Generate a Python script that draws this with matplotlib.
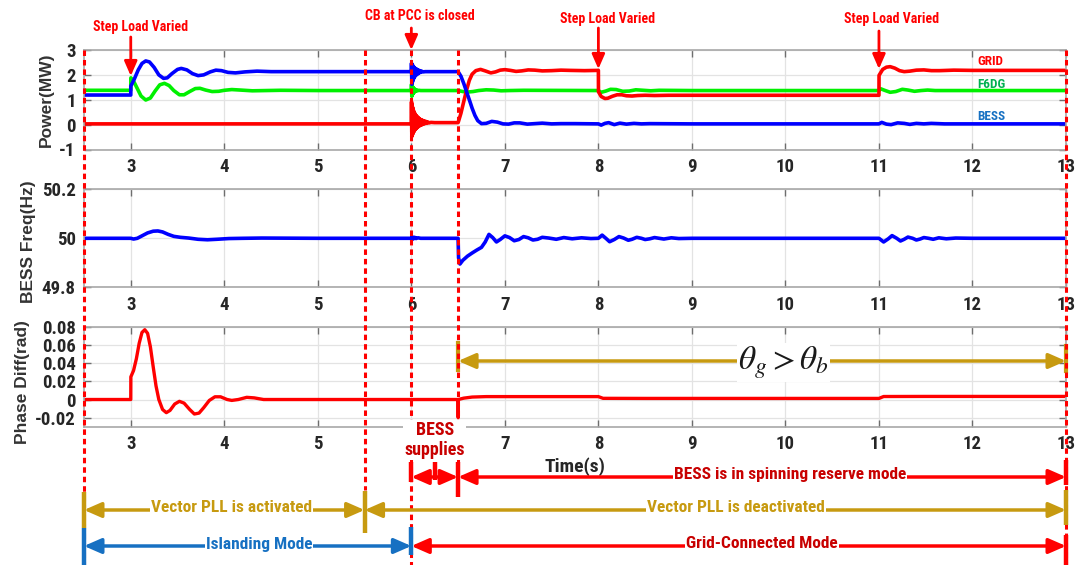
import matplotlib
matplotlib.use("Agg")
import matplotlib.pyplot as plt
from matplotlib import font_manager as fm
from matplotlib.transforms import blended_transform_factory
from matplotlib.patches import FancyArrowPatch
from matplotlib.lines import Line2D


def pick_narrow_family():
    """Return an installed narrow/condensed sans family, if any."""
    keys = ('Narrow', 'Condensed', 'Cond', 'Compressed')
    found = []
    for f in fm.fontManager.ttflist:
        if 'CJK' in f.name:
            continue
        narrow = any(k in f.name for k in keys) or str(f.stretch) in (
            'condensed', 'semi-condensed', 'extra-condensed', 'ultra-condensed')
        if narrow:
            found.append(f.name)
    for pref in ('Liberation Sans Narrow', 'Roboto Condensed', 'DejaVu Sans Condensed',
                 'DejaVu Sans', 'Open Sans Condensed', 'Noto Sans'):
        if pref in found:
            return pref
    return found[0] if found else 'Roboto'


NARROW_NAME = pick_narrow_family()
NARROW = [NARROW_NAME, 'DejaVu Sans']
WIDE = ['Liberation Sans', 'DejaVu Sans']
plt.rcParams['font.family'] = NARROW
plt.rcParams['font.stretch'] = 'condensed'
plt.rcParams['mathtext.fontset'] = 'stix'

# ---------------------------------------------------------------- data
t_min, t_max = 2.5, 13.0
x_ticks = [3, 4, 5, 6, 7, 8, 9, 10, 11, 12, 13]
x_tick_labels = ['3', '4', '5', '6', '7', '8', '9', '10', '11', '12', '13']
# the "6" under the BESS-supplies note is hidden in the bottom panel
x_tick_labels_phase = ['3', '4', '5', '', '7', '8', '9', '10', '11', '12', '13']

power_ticks = [-1, 0, 1, 2, 3]
power_tick_labels = ['-1', '0', '1', '2', '3']
freq_ticks = [49.8, 50.0, 50.2]
freq_tick_labels = ['49.8', '50', '50.2']
phase_ticks = [-0.02, 0.0, 0.02, 0.04, 0.06, 0.08]
phase_tick_labels = ['-0.02', '0', '0.02', '0.04', '0.06', '0.08']

# GRID active power (MW)
grid_t = [2.5, 3.0, 4.0, 5.0, 6.0,
          6.002, 6.005, 6.008, 6.011, 6.014, 6.017, 6.020, 6.023, 6.026, 6.029,
          6.032, 6.035, 6.038, 6.041, 6.044, 6.048, 6.052, 6.056, 6.060, 6.064,
          6.068, 6.072, 6.077, 6.082, 6.087, 6.092, 6.098, 6.104, 6.110, 6.116,
          6.123, 6.130, 6.138, 6.146, 6.155, 6.165, 6.175, 6.19, 6.21, 6.25,
          6.5, 6.53, 6.56, 6.59, 6.62, 6.65, 6.69, 6.74, 6.79, 6.85, 6.9, 6.95,
          7.0, 7.06, 7.12, 7.18, 7.25, 7.32, 7.4, 7.5, 7.6, 7.7, 7.85, 8.0,
          8.001, 8.03, 8.07, 8.1, 8.15, 8.2, 8.25, 8.3, 8.36, 8.42, 8.5, 8.6,
          8.75, 9.0, 10.0, 11.0,
          11.001, 11.04, 11.08, 11.12, 11.17, 11.22, 11.27, 11.33, 11.4, 11.48,
          11.56, 11.65, 11.8, 12.0, 13.0]
grid_p = [0.03, 0.03, 0.03, 0.03, 0.03,
          0.92, -0.48, 0.80, -0.42, 0.70, -0.36, 0.62, -0.31, 0.55, -0.27,
          0.49, -0.23, 0.44, -0.20, 0.40, -0.17, 0.36, -0.14, 0.33, -0.11,
          0.30, -0.09, 0.27, -0.06, 0.24, -0.04, 0.21, -0.02, 0.19, 0.00,
          0.17, 0.02, 0.15, 0.04, 0.13, 0.05, 0.11, 0.07, 0.09, 0.08,
          0.08, 0.45, 0.92, 1.38, 1.78, 2.03, 2.17, 2.22, 2.16, 2.08, 2.12, 2.19,
          2.21, 2.18, 2.14, 2.16, 2.20, 2.19, 2.16, 2.17, 2.19, 2.18, 2.17, 2.18,
          1.32, 1.13, 1.05, 1.06, 1.14, 1.20, 1.20, 1.16, 1.15, 1.17, 1.18, 1.17,
          1.18, 1.18, 1.18, 1.18,
          1.98, 2.22, 2.31, 2.33, 2.27, 2.17, 2.13, 2.15, 2.19, 2.20,
          2.17, 2.17, 2.19, 2.18, 2.18]

# F6DG active power (MW)
f6dg_t = [2.5, 3.0, 3.001, 3.03, 3.07, 3.11, 3.16, 3.21, 3.26, 3.31, 3.36,
          3.41, 3.46, 3.52, 3.57, 3.63, 3.69, 3.74, 3.8, 3.87, 3.94, 4.0, 4.08,
          4.17, 4.3, 4.45, 4.6, 5.0, 6.0,
          6.002, 6.005, 6.008, 6.011, 6.014, 6.017, 6.021, 6.025, 6.029, 6.034,
          6.040, 6.047, 6.055, 6.065, 6.08, 6.1,
          6.5, 6.55, 6.6, 6.66, 6.72, 6.8, 6.88, 6.96, 7.05, 7.2, 8.0,
          8.03, 8.08, 8.13, 8.19, 8.26, 8.33, 8.4, 8.48, 8.56, 8.65, 9.0, 11.0,
          11.02, 11.06, 11.12, 11.18, 11.25, 11.31, 11.38, 11.45, 11.52, 11.6,
          13.0]
f6dg_p = [1.38, 1.38, 1.88, 1.75, 1.45, 1.15, 0.99, 1.07, 1.35, 1.60, 1.66,
          1.57, 1.37, 1.20, 1.20, 1.33, 1.45, 1.46, 1.39, 1.33, 1.34, 1.38, 1.41,
          1.39, 1.36, 1.37, 1.38, 1.37, 1.37,
          1.62, 1.14, 1.57, 1.19, 1.52, 1.24, 1.48, 1.28, 1.45, 1.31,
          1.42, 1.34, 1.40, 1.36, 1.38, 1.37,
          1.37, 1.33, 1.31, 1.33, 1.37, 1.40, 1.39, 1.36, 1.37, 1.38, 1.37,
          1.30, 1.35, 1.42, 1.41, 1.34, 1.35, 1.40, 1.38, 1.36, 1.38, 1.37, 1.37,
          1.44, 1.38, 1.30, 1.33, 1.42, 1.39, 1.34, 1.37, 1.39, 1.37,
          1.37]

# BESS active power (MW)
bess_t = [2.5, 3.0, 3.001, 3.04, 3.08, 3.12, 3.16, 3.2, 3.25, 3.3, 3.35,
          3.39, 3.44, 3.5, 3.54, 3.6, 3.66, 3.72, 3.78, 3.85, 3.91, 3.97, 4.04,
          4.12, 4.22, 4.35, 4.5, 5.0, 6.0,
          6.002, 6.005, 6.008, 6.011, 6.014, 6.017, 6.020, 6.023, 6.026, 6.029,
          6.032, 6.035, 6.039, 6.043, 6.047, 6.051, 6.056, 6.061, 6.066, 6.072,
          6.078, 6.085, 6.092, 6.100, 6.110, 6.125, 6.15,
          6.5, 6.53, 6.56, 6.59, 6.62, 6.65, 6.68, 6.71, 6.75, 6.8, 6.86, 6.92,
          6.98, 7.04, 7.1, 7.16, 7.24, 7.32, 7.4, 7.5, 7.6, 7.75, 8.0,
          8.03, 8.07, 8.11, 8.17, 8.23, 8.3, 8.38, 8.46, 8.55, 9.0, 11.0,
          11.03, 11.08, 11.13, 11.2, 11.27, 11.33, 11.4, 11.48, 11.56, 11.7,
          13.0]
bess_p = [1.19, 1.19, 1.55, 1.85, 2.20, 2.46, 2.56, 2.52, 2.30, 2.00, 1.86,
          1.88, 2.05, 2.22, 2.26, 2.20, 2.05, 1.97, 2.00, 2.12, 2.19, 2.17, 2.10,
          2.08, 2.12, 2.15, 2.13, 2.13, 2.13,
          2.47, 1.62, 2.43, 1.70, 2.39, 1.77, 2.35, 1.83, 2.32, 1.88,
          2.29, 1.92, 2.27, 1.96, 2.25, 1.99, 2.23, 2.02, 2.21, 2.05,
          2.19, 2.08, 2.17, 2.10, 2.15, 2.12, 2.13,
          2.13, 1.95, 1.66, 1.33, 1.00, 0.66, 0.37, 0.16, 0.04, 0.05, 0.13, 0.10,
          0.03, 0.02, 0.07, 0.07, 0.02, 0.04, 0.06, 0.03, 0.04, 0.04, 0.03,
          -0.02, 0.05, 0.08, 0.00, 0.06, 0.02, 0.05, 0.03, 0.04, 0.03, 0.03,
          0.09, 0.02, 0.00, 0.07, 0.05, 0.01, 0.05, 0.03, 0.05, 0.03,
          0.03]

# BESS frequency (Hz)
freq_t = [2.5, 3.0, 3.03, 3.07, 3.12, 3.18, 3.24, 3.29, 3.34, 3.4, 3.46, 3.53,
          3.62, 3.72, 3.82, 3.92, 4.05, 4.2, 4.4, 5.0, 6.0, 6.01, 6.02, 6.035,
          6.05, 6.07, 6.1, 6.5, 6.505, 6.52, 6.55, 6.6, 6.65, 6.7, 6.75, 6.79,
          6.83, 6.87, 6.91, 6.95, 7.0, 7.05, 7.1, 7.15, 7.2, 7.25, 7.3, 7.35,
          7.4, 7.47, 7.55, 7.63, 7.72, 7.82, 7.92, 8.0, 8.04, 8.08, 8.12, 8.17,
          8.22, 8.27, 8.32, 8.36, 8.41, 8.46, 8.5, 8.55, 8.6, 8.65, 8.7, 8.78,
          8.86, 9.0, 11.0, 11.05, 11.1, 11.14, 11.19, 11.23, 11.27, 11.31, 11.36,
          11.4, 11.44, 11.48, 11.53, 11.58, 11.64, 11.72, 11.82, 12.0, 13.0]
freq_hz = [50.0, 50.0, 49.997, 50.0, 50.01, 50.022, 50.029, 50.03, 50.026,
           50.016, 50.008, 50.004, 50.001, 49.996, 49.994, 49.996, 49.999, 50.0,
           50.001, 50.0, 50.0, 50.006, 49.997, 50.004, 49.999, 50.002, 50.0,
           50.0, 49.92, 49.895, 49.91, 49.927, 49.94, 49.952, 49.963, 49.985,
           50.016, 50.003, 49.985, 49.995, 50.01, 50.003, 49.99, 49.995, 50.007,
           50.002, 49.993, 49.996, 50.004, 50.001, 49.996, 50.003, 49.998,
           50.002, 49.999, 50.0, 50.013, 50.0, 49.986, 49.995, 50.007, 50.001,
           49.992, 49.996, 50.004, 50.0, 49.995, 49.998, 50.003, 50.0, 49.997,
           50.002, 49.999, 50.0, 50.0, 49.985, 49.998, 50.011, 50.0, 49.989,
           49.996, 50.005, 50.0, 49.993, 49.997, 50.003, 50.0, 49.996, 50.002,
           49.998, 50.001, 50.0, 50.0]

# Phase difference between grid and BESS (rad)
phase_t = [2.5, 3.0, 3.001, 3.03, 3.06, 3.09, 3.12, 3.15, 3.18, 3.21, 3.24,
           3.27, 3.3, 3.34, 3.38, 3.42, 3.47, 3.52, 3.57, 3.63, 3.68, 3.73, 3.78,
           3.84, 3.9, 3.96, 4.03, 4.08, 4.15, 4.24, 4.32, 4.42, 4.6, 6.5, 6.501,
           6.502, 6.56, 6.65, 6.8, 8.0, 8.05, 8.5, 11.0, 11.05, 11.5, 13.0]
phase_rad = [0.0, 0.0, 0.025, 0.032, 0.045, 0.062, 0.074, 0.077, 0.073, 0.058,
             0.036, 0.015, 0.0, -0.011, -0.0145, -0.012, -0.005, -0.002, -0.004,
             -0.011, -0.016, -0.015, -0.009, -0.001, 0.003, 0.003, 0.0, -0.001,
             0.0, 0.0024, 0.0018, 0.0, 0.0, 0.0, -0.02, 0.0, 0.0015, 0.0027,
             0.0032, 0.0032, 0.0013, 0.0012, 0.0012, 0.0033, 0.0034, 0.0034]

series_names = ['GRID', 'F6DG', 'BESS']
event_times = [2.5, 5.5, 6.0, 6.5, 13.0]

# ---------------------------------------------------------------- style
RED = '#ff0000'
DARK_RED = '#c80000'
GREEN = '#00f000'
BLUE = '#0000ff'
GOLD = '#c79a10'
STEEL = '#1670c2'
TEXT = '#262626'

W, H = 1084, 565
fig = plt.figure(figsize=(W / 100, H / 100), dpi=100)


def fy(py):
    return 1 - py / H


def add_axes(top_px, bottom_px):
    left, right = 84 / W, 1066 / W
    return fig.add_axes([left, fy(bottom_px), right - left, (bottom_px - top_px) / H])


ax1 = add_axes(50, 149.5)
ax2 = add_axes(189.3, 287.3)
ax3 = add_axes(327, 426.7)

for ax, xl in ((ax1, x_tick_labels), (ax2, x_tick_labels), (ax3, x_tick_labels_phase)):
    ax.set_xlim(t_min, t_max)
    ax.set_xticks(x_ticks)
    ax.set_xticklabels(xl)
    ax.grid(True, color='#e3e3e3', lw=0.9)
    ax.set_axisbelow(True)
    ax.tick_params(direction='in', top=True, right=True, length=5, width=1,
                   color='#6e6e6e', labelcolor=TEXT, labelsize=13.5, pad=6)
    for sp in ax.spines.values():
        sp.set_color('#a8a8a8')
        sp.set_linewidth(1.2)

# power
ax1.plot(f6dg_t, f6dg_p, color=GREEN, lw=2.6)
ax1.plot(grid_t, grid_p, color=RED, lw=2.6)
ax1.plot(bess_t, bess_p, color=BLUE, lw=2.6)
ax1.set_ylim(-1, 3)
ax1.set_yticks(power_ticks)
ax1.set_yticklabels(power_tick_labels)
ax1.set_ylabel('Power(MW)', family=WIDE, fontstretch='normal', fontweight='bold',
               fontsize=12.5, color='#333333')
ax1.yaxis.set_label_coords(-0.031, 0.5)
for name, yv, col in zip(series_names, [2.52, 1.6, 0.32], [RED, '#00b050', STEEL]):
    ax1.text(12.05, yv, name, color=col, fontsize=9.5, fontweight='bold', va='center')

# frequency
ax2.plot(freq_t, freq_hz, color=BLUE, lw=2.6)
ax2.set_ylim(49.8, 50.2)
ax2.set_yticks(freq_ticks)
ax2.set_yticklabels(freq_tick_labels)
ax2.set_ylabel('BESS Freq(Hz)', family=WIDE, fontstretch='normal', fontweight='bold',
               fontsize=12.5, color='#333333')
ax2.yaxis.set_label_coords(-0.049, 0.47)

# phase difference
ax3.plot(phase_t, phase_rad, color=RED, lw=2.4)
ax3.set_ylim(-0.03, 0.08)
ax3.set_yticks(phase_ticks)
ax3.set_yticklabels(phase_tick_labels)
ax3.set_ylabel('Phase Diff(rad)', family=WIDE, fontstretch='normal', fontweight='bold',
               fontsize=12.5, color='#333333')
ax3.yaxis.set_label_coords(-0.055, 0.45)
ax3.set_xlabel('Time(s)', fontsize=14, fontweight='bold', color=TEXT)
ax3.xaxis.set_label_coords(0.5, -0.31)

for ax in (ax1, ax2, ax3):
    for lab in ax.get_xticklabels() + ax.get_yticklabels():
        lab.set_fontweight('bold')

# theta_g > theta_b span inside the phase axes
ax3.add_patch(FancyArrowPatch((6.5, 0.0425), (13.0, 0.0425),
                              arrowstyle='<|-|>,head_length=0.8,head_width=0.35',
                              mutation_scale=13, color=GOLD, lw=2.5,
                              shrinkA=0, shrinkB=0, clip_on=False, zorder=4))
for xb, y0, y1 in [(6.5, 0.033, 0.062), (13.0, 0.032, 0.059)]:
    ax3.add_line(Line2D([xb, xb], [y0, y1], color=GOLD, lw=3, clip_on=False, zorder=4))
ax3.text(9.98, 0.041, r'$\theta_g > \theta_b$', fontsize=24, ha='center', va='center',
         color='#1a1a1a', zorder=5,
         bbox=dict(facecolor='white', edgecolor='none', pad=1))

# ---------------------------------------------------------------- figure-level marks
bt = blended_transform_factory(ax1.transData, fig.transFigure)

dash = (0, (1.8, 1.3))
dashed_spans = {2.5: (50, 565), 5.5: (50, 490), 6.0: (50, 565),
                6.5: (50, 462), 13.0: (50, 565)}
for xe in event_times:
    p0, p1 = dashed_spans[xe]
    fig.add_artist(Line2D([xe, xe], [fy(p0), fy(p1)], transform=bt, color=RED,
                          lw=2.2, linestyle=dash, zorder=6))


def vbar(x, p0, p1, color):
    fig.add_artist(Line2D([x, x], [fy(p0), fy(p1)], transform=bt, color=color,
                          lw=3.2, zorder=7, solid_capstyle='butt'))


def harrow(x0, x1, py, color, style):
    fig.add_artist(FancyArrowPatch((x0, fy(py)), (x1, fy(py)), transform=bt,
                                   arrowstyle=style + ',head_length=0.8,head_width=0.35',
                                   mutation_scale=13, color=color, lw=2.5,
                                   shrinkA=0, shrinkB=0, zorder=7))


def label(x, py, s, color, size=12.5):
    fig.text(x, fy(py), s, transform=bt, color=color, fontsize=size,
             fontweight='bold', ha='center', va='center', zorder=8,
             bbox=dict(facecolor='white', edgecolor='none', pad=0.6))


# step-load and breaker call-outs
callouts = [(3.0, 'Step Load Varied', 3.11, 26.7, 37, 76),
            (6.0, 'CB at PCC is closed', 6.09, 15.7, 28, 50),
            (8.0, 'Step Load Varied', 8.1, 18.5, 28, 69),
            (11.0, 'Step Load Varied', 11.13, 19.5, 31, 69)]
for xa, txt, xt, pt, pa0, pa1 in callouts:
    fig.text(xt, fy(pt), txt, transform=bt, color=RED, fontsize=10,
             fontweight='bold', ha='center', va='center')
    fig.add_artist(FancyArrowPatch((xa, fy(pa0)), (xa, fy(pa1)), transform=bt,
                                   arrowstyle='-|>,head_length=0.8,head_width=0.35',
                                   mutation_scale=11, color=RED, lw=2,
                                   shrinkA=0, shrinkB=0, zorder=7))

# BESS supplies / spinning reserve row
fig.text(6.25, fy(440), 'BESS\nsupplies', transform=bt, color=DARK_RED, fontsize=13,
         fontweight='bold', ha='center', va='center', linespacing=1.15, zorder=8,
         bbox=dict(facecolor='white', edgecolor='none', pad=1))
vbar(6.0, 462, 482, RED)
vbar(6.25, 462, 480, RED)
vbar(6.5, 462, 497, RED)
vbar(13.0, 460, 485, RED)
harrow(6.25, 6.0, 477, RED, '-|>')
harrow(6.25, 6.5, 477, RED, '-|>')
harrow(6.5, 13.0, 477, RED, '<|-|>')
label(10.05, 475, 'BESS is in spinning reserve mode', DARK_RED)

# vector PLL row
vbar(2.5, 492, 528, GOLD)
vbar(5.5, 491, 533, GOLD)
vbar(13.0, 490, 525, GOLD)
harrow(2.5, 5.5, 510, GOLD, '<|-|>')
harrow(5.5, 13.0, 510, GOLD, '<|-|>')
label(4.08, 508, 'Vector PLL is activated', GOLD)
label(9.47, 508, 'Vector PLL is deactivated', GOLD)

# operating mode row
vbar(2.5, 528, 565, STEEL)
vbar(6.0, 527, 555, STEEL)
vbar(13.0, 535, 565, RED)
harrow(2.5, 6.0, 546, STEEL, '<|-|>')
harrow(6.0, 13.0, 546, RED, '<|-|>')
label(4.37, 544, 'Islanding Mode', STEEL)
label(9.75, 544, 'Grid-Connected Mode', DARK_RED)

fig.savefig('out.png', dpi=100, facecolor='white')
